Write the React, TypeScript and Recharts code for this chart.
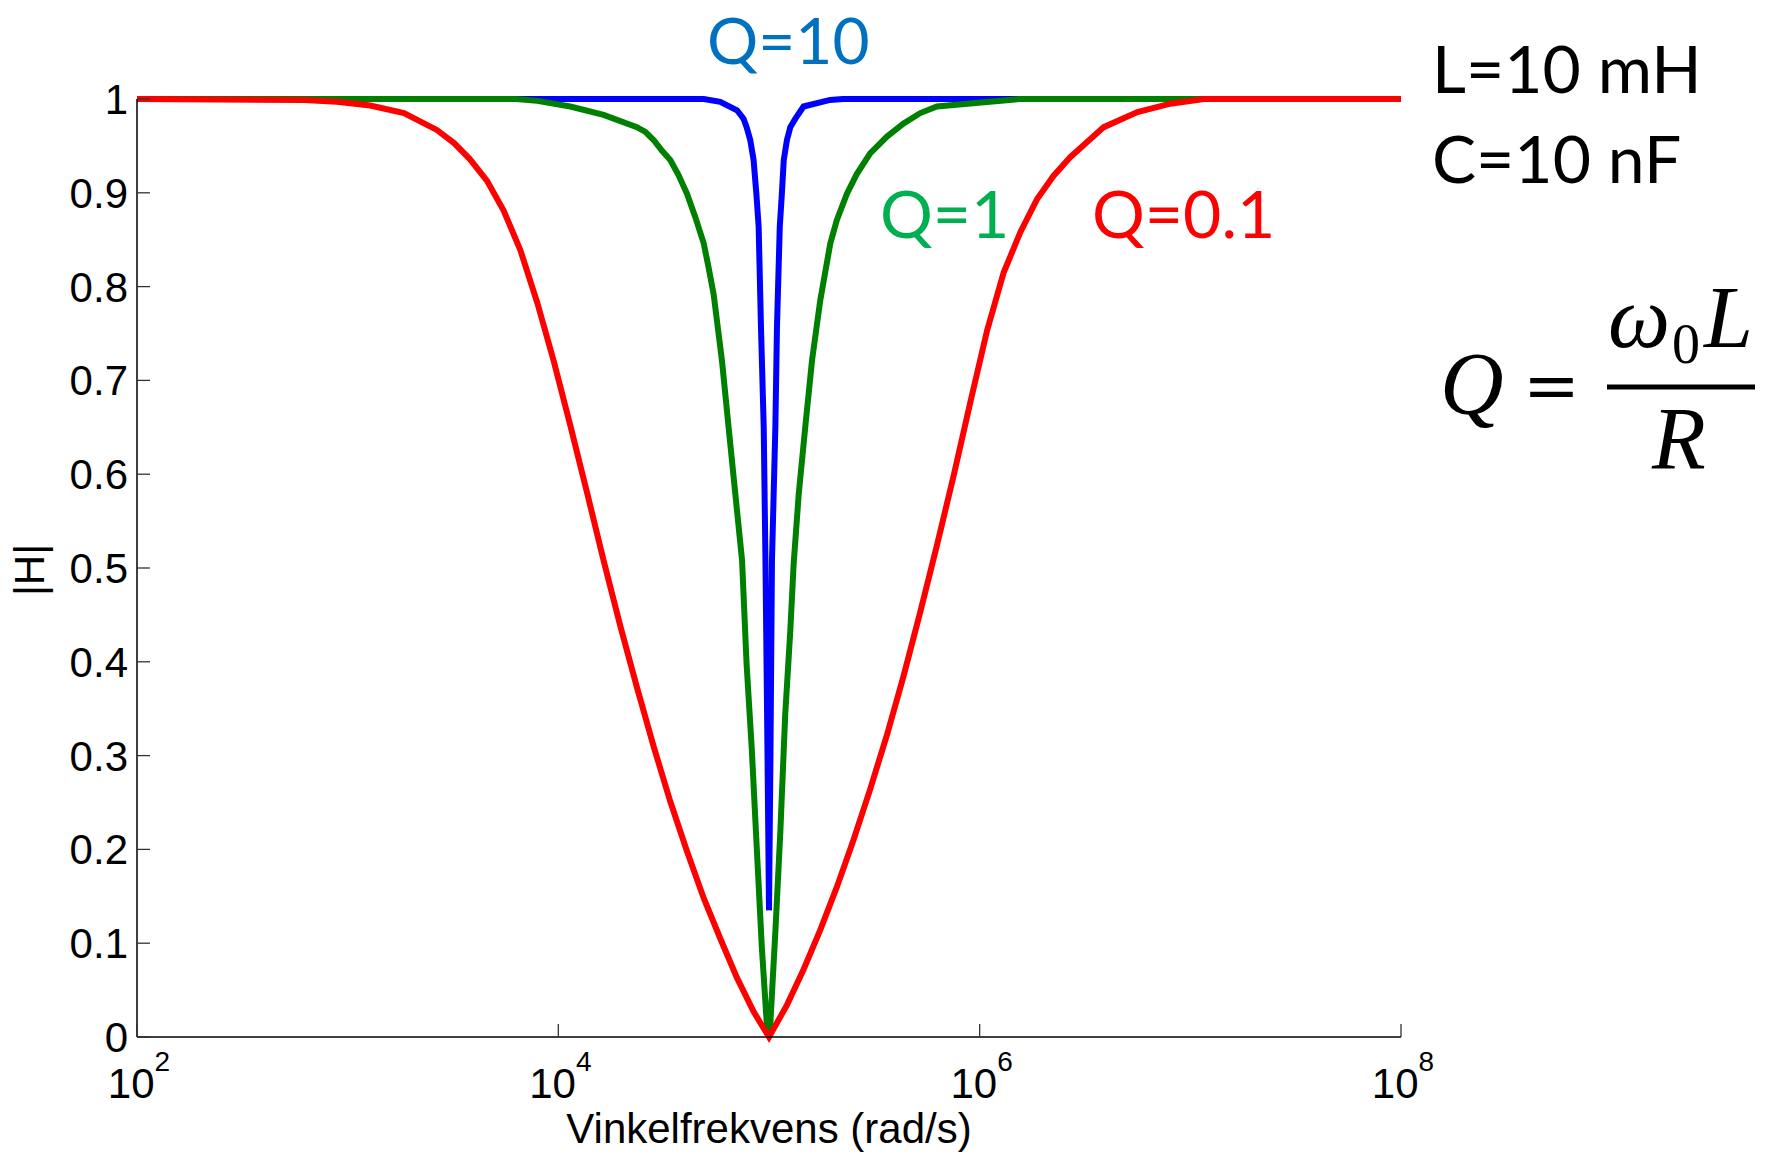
import { LineChart, Line, XAxis, YAxis } from "recharts";

// angular frequency (rad/s) and |H|, one pair of arrays per curve
const redW = [100, 620, 890, 1280, 1850, 2650, 3200, 3800, 4580, 5500, 6600, 7940, 9500, 11400, 13700, 16400, 19700, 23600, 28400, 34000, 40800, 49000, 58700, 70500, 84500, 100000, 121600, 145900, 175000, 210000, 251800, 302000, 363000, 435500, 522400, 626600, 751600, 901600, 1084000, 1300000, 1560000, 1870000, 2240000, 2690000, 3880000, 5610000, 8040000, 11600000, 100000000];
const redH = [1, 0.999, 0.997, 0.993, 0.985, 0.967, 0.953, 0.936, 0.913, 0.881, 0.839, 0.783, 0.721, 0.652, 0.58, 0.508, 0.438, 0.373, 0.309, 0.251, 0.198, 0.148, 0.105, 0.063, 0.027, 0, 0.034, 0.072, 0.114, 0.16, 0.21, 0.264, 0.322, 0.385, 0.453, 0.524, 0.598, 0.676, 0.753, 0.815, 0.858, 0.893, 0.918, 0.938, 0.97, 0.986, 0.995, 1, 1];

const greenW = [100, 6300, 7940, 11400, 16400, 23600, 25900, 28400, 31000, 34000, 37200, 40800, 44700, 49000, 51600, 54600, 59800, 64300, 69200, 74500, 78300, 82800, 87500, 92500, 97700, 100000, 101400, 107200, 113200, 119400, 126200, 130900, 138400, 148600, 160000, 175000, 195400, 210000, 234400, 261000, 302000, 363000, 435500, 522400, 626600, 1550000, 100000000];
const greenH = [1, 1, 0.998, 0.992, 0.983, 0.97, 0.965, 0.956, 0.945, 0.935, 0.919, 0.899, 0.874, 0.846, 0.821, 0.792, 0.721, 0.65, 0.579, 0.508, 0.397, 0.308, 0.201, 0.095, 0.013, 0.005, 0.013, 0.112, 0.219, 0.344, 0.433, 0.504, 0.579, 0.65, 0.721, 0.785, 0.846, 0.871, 0.899, 0.92, 0.942, 0.96, 0.974, 0.985, 0.992, 1, 1];

const blueW = [100, 49000, 58700, 70500, 75700, 78300, 81500, 84500, 87100, 89300, 91600, 94400, 96200, 98400, 100000, 101600, 103300, 107200, 109100, 112500, 115100, 117500, 121600, 126200, 133400, 145900, 195000, 224000, 100000000];
const blueH = [1, 1, 0.997, 0.988, 0.979, 0.97, 0.956, 0.935, 0.899, 0.864, 0.757, 0.65, 0.508, 0.3, 0.135, 0.3, 0.508, 0.65, 0.757, 0.864, 0.899, 0.935, 0.956, 0.97, 0.979, 0.992, 0.999, 1, 1];

const xTicks = [1e2, 1e4, 1e6, 1e8];
const yTicks = [0, 0.1, 0.2, 0.3, 0.4, 0.5, 0.6, 0.7, 0.8, 0.9, 1];

const toPoints = (w: number[], h: number[]) => w.map((x, i) => ({ w: x, h: h[i] }));

const AXIS_FONT = "'Liberation Sans', Arial, sans-serif";
const LABEL_FONT = "Lato, 'Open Sans', sans-serif";
const MATH_FONT = "'Liberation Serif', 'DejaVu Serif', serif";
const TICK = 13;
const tickStroke = { stroke: "#333", strokeWidth: 1.3 };
const axisStroke = { stroke: "#000", strokeWidth: 1.5 };

// ticks point into the plot, as in the MATLAB figure
function YTick({ x, y, payload }: any) {
  const v = payload.value;
  const txt = v === 0 ? "0" : v === 1 ? "1" : v.toFixed(1);
  return (
    <g>
      <line x1={x} x2={x + TICK} y1={y} y2={y} {...tickStroke} />
      <text x={x - 9} y={y + 15} textAnchor="end" fontSize={42} fontFamily={AXIS_FONT} fill="#000">
        {txt}
      </text>
    </g>
  );
}

function XTick({ x, y, payload }: any) {
  const exp = Math.round(Math.log10(payload.value));
  return (
    <g>
      <line x1={x} x2={x} y1={y} y2={y - TICK} {...tickStroke} />
      <text x={x + 2} y={y + 61} textAnchor="middle" fontFamily={AXIS_FONT} fill="#000">
        <tspan fontSize={42}>10</tspan>
        <tspan fontSize={28} dy={-27}>{exp}</tspan>
      </text>
    </g>
  );
}

const TopTick = ({ x, y }: any) => <line x1={x} x2={x} y1={y} y2={y + TICK} {...tickStroke} />;
const RightTick = ({ x, y }: any) => <line x1={x} x2={x - TICK} y1={y} y2={y} {...tickStroke} />;

export default function App() {
  return (
    <div style={{ position: "absolute", left: 0, top: 0, width: 1771, height: 1154, background: "#fff" }}>
      <LineChart width={1771} height={1154} margin={{ top: 99, right: 370, bottom: 0, left: 0 }}>
        <XAxis
          dataKey="w"
          type="number"
          scale="log"
          domain={[100, 1e8]}
          ticks={xTicks}
          interval={0}
          allowDataOverflow
          height={117}
          tickSize={0}
          tickMargin={0}
          tickLine={false}
          tick={<XTick />}
          axisLine={axisStroke}
        />
        <XAxis
          xAxisId="top"
          orientation="top"
          type="number"
          scale="log"
          domain={[100, 1e8]}
          ticks={xTicks}
          interval={0}
          allowDataOverflow
          height={0}
          tickSize={0}
          tickMargin={0}
          tickLine={false}
          tick={<TopTick />}
          axisLine={axisStroke}
        />
        <YAxis
          type="number"
          domain={[0, 1]}
          ticks={yTicks}
          interval={0}
          width={137}
          tickSize={0}
          tickMargin={0}
          tickLine={false}
          tick={<YTick />}
          axisLine={axisStroke}
        />
        <YAxis
          yAxisId="right"
          orientation="right"
          type="number"
          domain={[0, 1]}
          ticks={yTicks}
          interval={0}
          width={0}
          tickSize={0}
          tickMargin={0}
          tickLine={false}
          tick={<RightTick />}
          axisLine={axisStroke}
        />
        <Line data={toPoints(blueW, blueH)} dataKey="h" type="linear" stroke="#0000ff" strokeWidth={6} dot={false} isAnimationActive={false} />
        <Line data={toPoints(greenW, greenH)} dataKey="h" type="linear" stroke="#008000" strokeWidth={6} dot={false} isAnimationActive={false} />
        <Line data={toPoints(redW, redH)} dataKey="h" type="linear" stroke="#ff0000" strokeWidth={6} dot={false} isAnimationActive={false} />
      </LineChart>

      <svg width={1771} height={1154} style={{ position: "absolute", left: 0, top: 0, pointerEvents: "none" }}>
        <text x={769} y={1143} textAnchor="middle" fontSize={42} fontFamily={AXIS_FONT}>Vinkelfrekvens (rad/s)</text>
        <text x={0} y={0} transform="translate(44,570) rotate(-90)" textAnchor="middle" fontSize={42} fontFamily={AXIS_FONT}>|H|</text>

        <text x={707} y={64} fontSize={64} fontFamily={LABEL_FONT} fill="#0070c0">Q=10</text>
        <text x={880} y={238} fontSize={66} fontFamily={LABEL_FONT} fill="#00b050">Q=1</text>
        <text x={1092} y={238} fontSize={66} fontFamily={LABEL_FONT} fill="#ff0000">Q=0.1</text>
        <text x={1432} y={93} fontSize={66} fontFamily={LABEL_FONT} fill="#000">L=10 mH</text>
        <text x={1432} y={183} fontSize={66} fontFamily={LABEL_FONT} fill="#000">C=10 nF</text>

        <g fontFamily={MATH_FONT} fill="#000">
          <text x={1440} y={413} fontSize={88} fontStyle="italic">Q</text>
          <text x={1523} y={409} fontSize={68} fontFamily="'DejaVu Serif', serif">=</text>
          <text x={1608} y={347} fontSize={88} fontStyle="italic">ω</text>
          <text x={1672} y={363} fontSize={56}>0</text>
          <text x={1704} y={347} fontSize={88} fontStyle="italic">L</text>
          <line x1={1607} x2={1755} y1={387} y2={387} stroke="#000" strokeWidth={5} />
          <text x={1652} y={468} fontSize={88} fontStyle="italic">R</text>
        </g>
      </svg>
    </div>
  );
}
